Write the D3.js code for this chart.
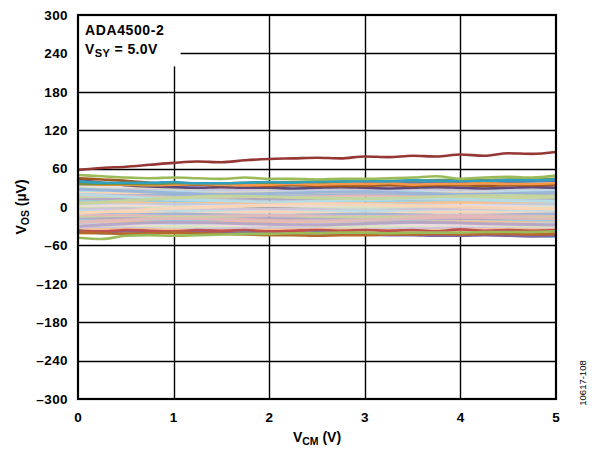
<!DOCTYPE html>
<html>
<head>
<meta charset="utf-8">
<script src="https://cdn.jsdelivr.net/npm/d3@7.9.0/dist/d3.min.js"></script>
<style>
  body { margin: 0; background: #fff; }
  text { font-family: Arial, "Liberation Sans", sans-serif; }
</style>
</head>
<body>
<svg id="chart" width="592" height="453"></svg>
<script>
// x ticks / y ticks
const xTicks = [0, 1, 2, 3, 4, 5];
const yTicks = [-300, -240, -180, -120, -60, 0, 60, 120, 180, 240, 300];

// strong traces sampled every 0.25 V
const xFine = d3.range(0, 5.001, 0.25);
const redTop = [58, 61, 63, 66, 69, 71, 70, 73, 75, 76, 77, 76, 79, 78, 80, 79, 82, 80, 84, 83, 86];
const greenTop = [50, 48, 46, 45, 46, 45, 44, 46, 44, 44, 43, 44, 44, 45, 46, 48, 44, 46, 47, 46, 49];
const greenBottom = [-48, -50, -45, -44, -45, -44, -43, -42, -42, -41, -41, -40, -40, -41, -40, -40, -40, -39, -39, -39, -38];
const brownTop = [45, 43, 41, 38, 36, 35, 34, 34, 33, 34, 33, 33, 33, 34, 33, 34, 34, 33, 34, 34, 35];
const tealTop = [40, 38, 38, 38, 39, 37, 37, 38, 39, 38, 40, 40, 41, 40, 42, 41, 41, 41, 42, 42, 43];
const orangeTop = [36, 35, 35, 34, 35, 36, 35, 34, 35, 36, 35, 36, 36, 37, 35, 36, 36, 37, 36, 36, 37];
const oliveTop = [36, 36, 36, 36, 37, 37, 37, 38, 38, 39, 39, 40, 41, 41, 41, 42, 42, 42, 43, 43, 44];
const blueTop = [38, 37, 36, 37, 36, 35, 36, 36, 35, 36, 37, 36, 37, 38, 37, 38, 39, 38, 39, 40, 41];
const purpleTop = [42, 38, 34, 32, 31, 30, 31, 30, 30, 29, 30, 31, 30, 29, 30, 31, 30, 29, 30, 31, 30];
const redBottom = [-37, -38, -36, -37, -38, -36, -37, -36, -38, -37, -36, -37, -36, -37, -36, -38, -35, -37, -36, -37, -36];
const brownBottom = [-40, -41, -42, -41, -40, -41, -42, -43, -44, -44, -45, -44, -44, -43, -43, -42, -43, -42, -42, -43, -42];
const purpleBottom = [-38, -39, -38, -39, -40, -39, -40, -41, -41, -42, -41, -42, -43, -44, -44, -45, -45, -44, -45, -46, -45];
const tealBottom = [-36, -41, -39, -38, -38, -39, -38, -40, -39, -39, -40, -40, -41, -40, -42, -42, -43, -43, -44, -45, -46];
const blueBottom = [-40, -39, -40, -39, -40, -40, -39, -40, -40, -41, -40, -41, -42, -41, -42, -43, -42, -43, -44, -44, -45];
const orangeBottom = [-41, -40, -41, -40, -41, -40, -40, -41, -40, -40, -41, -42, -41, -41, -42, -41, -42, -41, -42, -42, -41];

// pale traces filling the band, sampled every 0.5 V
const xCoarse = d3.range(0, 5.001, 0.5);
const paleTraces = [
  [34, 33, 34, 33, 32, 33, 34, 33, 34, 35, 34],
  [32, 31, 30, 31, 30, 31, 30, 31, 32, 31, 32],
  [29, 28, 28, 27, 28, 27, 28, 29, 28, 29, 30],
  [26, 27, 25, 26, 25, 26, 27, 26, 27, 26, 27],
  [24, 23, 24, 22, 23, 24, 23, 24, 23, 24, 25],
  [21, 22, 20, 21, 22, 21, 20, 21, 22, 21, 22],
  [19, 18, 19, 18, 17, 18, 19, 18, 19, 20, 19],
  [16, 17, 15, 16, 15, 16, 17, 16, 15, 16, 17],
  [14, 13, 14, 12, 13, 14, 13, 12, 13, 14, 13],
  [11, 12, 10, 11, 12, 10, 11, 12, 11, 10, 11],
  [9, 8, 9, 8, 7, 8, 9, 8, 9, 8, 9],
  [6, 7, 5, 6, 7, 6, 5, 6, 7, 6, 5],
  [4, 3, 4, 3, 2, 3, 4, 3, 2, 3, 4],
  [1, 2, 0, 1, 2, 1, 0, 1, 2, 1, 0],
  [-1, -2, -1, -2, -3, -2, -1, -2, -3, -2, -1],
  [-4, -3, -5, -4, -3, -4, -5, -4, -3, -4, -5],
  [-6, -7, -6, -7, -8, -7, -6, -7, -8, -7, -6],
  [-9, -8, -10, -9, -8, -9, -10, -9, -8, -9, -10],
  [-11, -12, -11, -12, -13, -12, -11, -12, -13, -12, -11],
  [-14, -13, -15, -14, -13, -14, -15, -14, -13, -14, -15],
  [-16, -17, -16, -17, -18, -17, -16, -17, -18, -17, -16],
  [-19, -18, -20, -19, -18, -19, -20, -19, -18, -19, -20],
  [-21, -22, -21, -22, -23, -22, -21, -22, -23, -22, -21],
  [-24, -23, -25, -24, -23, -24, -25, -24, -23, -24, -25],
  [-26, -27, -26, -27, -28, -27, -26, -27, -28, -27, -26],
  [-29, -28, -30, -29, -28, -29, -30, -29, -28, -29, -30],
  [-31, -32, -31, -32, -33, -32, -31, -32, -33, -32, -31],
  [-34, -33, -35, -34, -33, -34, -35, -34, -33, -34, -35],
  [20, 16, 12, 10, 8, 9, 11, 13, 12, 10, 9],
  [-10, -6, -2, 0, 3, 5, 4, 2, 0, -2, -3],
  [28, 25, 22, 20, 21, 23, 24, 22, 20, 21, 23],
  [-24, -20, -18, -19, -21, -22, -20, -18, -16, -17, -18],
  [5, 10, 14, 17, 16, 14, 13, 15, 17, 18, 16],
  [-30, -26, -24, -25, -27, -28, -26, -24, -25, -27, -28],
  [36, 35, 34, 35, 34, 33, 34, 35, 34, 33, 34],
  [-36, -35, -36, -37, -36, -35, -36, -37, -36, -35, -36]
];
const paleColors = ["#B9CDE5", "#F2DCDB", "#D7E4BD", "#CCC1DA", "#B7DEE8", "#FCD5B5",
  "#95B3D7", "#E6B9B8", "#C3D69B", "#B3A2C7", "#93CDDD", "#FAC090"];

const strongTraces = [
  { v: tealBottom, c: "#4BACC6" },
  { v: blueBottom, c: "#4F81BD" },
  { v: orangeBottom, c: "#F79646" },
  { v: purpleBottom, c: "#8064A2" },
  { v: redBottom, c: "#C0504D" },
  { v: brownBottom, c: "#B46A2C" },
  { v: greenBottom, c: "#9BBB59" },
  { v: purpleTop, c: "#604A7B" },
  { v: blueTop, c: "#4F81BD" },
  { v: brownTop, c: "#A0581C" },
  { v: orangeTop, c: "#F79646" },
  { v: oliveTop, c: "#76923C" },
  { v: tealTop, c: "#31A0BE" },
  { v: greenTop, c: "#9BBB59" },
  { v: redTop, c: "#953735" }
];

const svg = d3.select("#chart");
const margin = { top: 15, right: 36, bottom: 54, left: 78 };
const width = +svg.attr("width") - margin.left - margin.right;
const height = +svg.attr("height") - margin.top - margin.bottom;
const g = svg.append("g").attr("transform", `translate(${margin.left},${margin.top})`);

const x = d3.scaleLinear().domain([0, 5]).range([0, width]);
const y = d3.scaleLinear().domain([-300, 300]).range([height, 0]);

// grid
g.append("g")
  .selectAll("line")
  .data(yTicks.slice(1, -1))
  .join("line")
  .attr("x1", 0).attr("x2", width)
  .attr("y1", d => Math.round(y(d)) + 0.5).attr("y2", d => Math.round(y(d)) + 0.5)
  .attr("stroke", "#000").attr("stroke-width", 1.4);
g.append("g")
  .selectAll("line")
  .data(xTicks.slice(1, -1))
  .join("line")
  .attr("x1", d => Math.round(x(d)) + 0.5).attr("x2", d => Math.round(x(d)) + 0.5)
  .attr("y1", 0).attr("y2", height)
  .attr("stroke", "#000").attr("stroke-width", 1.4);

// white area behind the annotation
g.append("rect")
  .attr("x", 0).attr("y", 0)
  .attr("width", x(1) + 7).attr("height", y(240) + 13)
  .attr("fill", "#fff");

const line = d3.line().curve(d3.curveMonotoneX);

const plot = g.append("g");
paleTraces.forEach((vals, i) => {
  plot.append("path")
    .attr("d", line(vals.map((v, j) => [x(xCoarse[j]), y(v)])))
    .attr("fill", "none")
    .attr("stroke", paleColors[i % paleColors.length])
    .attr("stroke-width", 3)
    .attr("opacity", 0.9);
});
strongTraces.forEach(t => {
  plot.append("path")
    .attr("d", line(t.v.map((v, j) => [x(xFine[j]), y(v)])))
    .attr("fill", "none")
    .attr("stroke", t.c)
    .attr("stroke-width", 2.6);
});

// frame
g.append("rect")
  .attr("x", 0).attr("y", 0)
  .attr("width", width).attr("height", height)
  .attr("fill", "none")
  .attr("stroke", "#000")
  .attr("stroke-width", 2.2);

// tick labels
g.append("g")
  .selectAll("text")
  .data(yTicks)
  .join("text")
  .attr("x", -10)
  .attr("y", d => y(d) + 4.8)
  .attr("text-anchor", "end")
  .attr("font-size", 13.5)
  .attr("font-weight", "bold")
  .attr("letter-spacing", 0.4)
  .text(d => d < 0 ? "\u2013" + Math.abs(d) : d);

g.append("g")
  .selectAll("text")
  .data(xTicks)
  .join("text")
  .attr("x", d => x(d))
  .attr("y", height + 23)
  .attr("text-anchor", "middle")
  .attr("font-size", 13.5)
  .attr("font-weight", "bold")
  .text(d => d);

// axis titles
const xTitle = svg.append("text")
  .attr("x", margin.left + width / 2)
  .attr("y", 442)
  .attr("text-anchor", "middle")
  .attr("font-size", 14)
  .attr("font-weight", "bold");
xTitle.append("tspan").text("V");
xTitle.append("tspan").attr("font-size", 10.5).attr("dy", 3).text("CM");
xTitle.append("tspan").attr("dy", -3).text(" (V)");

const yTitle = svg.append("text")
  .attr("transform", `translate(26,${margin.top + height / 2}) rotate(-90)`)
  .attr("text-anchor", "middle")
  .attr("font-size", 14)
  .attr("font-weight", "bold");
yTitle.append("tspan").text("V");
yTitle.append("tspan").attr("font-size", 10.5).attr("dy", 3).text("OS");
yTitle.append("tspan").attr("dy", -3).text(" (\u00B5V)");

// annotation
g.append("text")
  .attr("x", 7).attr("y", 20)
  .attr("font-size", 14)
  .attr("font-weight", "bold")
  .attr("letter-spacing", 0.6)
  .text("ADA4500-2");
const vsy = g.append("text")
  .attr("x", 7).attr("y", 38.5)
  .attr("font-size", 14)
  .attr("font-weight", "bold")
  .attr("letter-spacing", 0.4);
vsy.append("tspan").text("V");
vsy.append("tspan").attr("font-size", 11).attr("dy", 3).text("SY");
vsy.append("tspan").attr("dy", -3).text(" = 5.0V");

// figure number
svg.append("text")
  .attr("transform", "translate(586,383) rotate(-90)")
  .attr("text-anchor", "middle")
  .attr("font-size", 9.5)
  .text("10617-108");
</script>
</body>
</html>
